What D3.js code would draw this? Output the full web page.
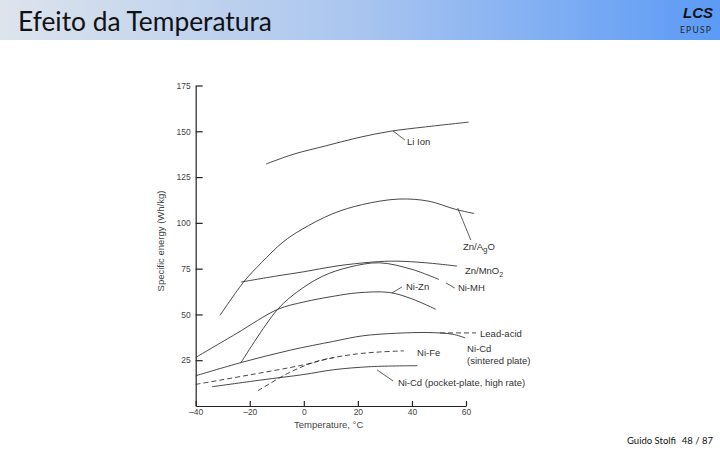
<!DOCTYPE html>
<html><head><meta charset="utf-8">
<script src="https://cdn.jsdelivr.net/npm/d3@7"></script>
<style>html,body{margin:0;padding:0;background:#fff;}svg{display:block;}</style>
</head><body>
<svg id="c" width="720" height="450"></svg>
<script>
// ---- data ----
const xTicks = [-40, -20, 0, 20, 40, 60];
const yTicks = [25, 50, 75, 100, 125, 150, 175];

const liIonT = [-14, -4, 8, 20, 32, 45, 61];
const liIonE = [132.1, 137.4, 142, 146.5, 150, 152.4, 155];

const znAgoT = [-31, -22, -15.7, -7.7, -1, 10.7, 21.7, 35.2, 46.3, 56.1, 63];
const znAgoE = [49.5, 68.2, 78.2, 89.5, 96.2, 105, 110, 113, 111.8, 107.4, 105.1];

const znMnT = [-23.2, -10, 0, 11.9, 25.4, 34, 45.1, 56.7];
const znMnE = [67.7, 71, 73.3, 76.4, 78.6, 79.1, 78.2, 76.4];

const niMhT = [-23.2, -10.2, -2.8, 7, 16.8, 27.9, 40, 50];
const niMhE = [23.8, 51.9, 61.9, 70.9, 75.8, 78.2, 74.6, 69.1];

const niZnT = [-40, -25, -9.6, 0, 11.3, 20, 31.6, 40, 48.8];
const niZnE = [26.5, 39.5, 52.8, 56.8, 60, 61.8, 62, 58.5, 52.8];

const sinteredT = [-40, -23, -5, 11, 21.7, 34, 46.3, 55, 59.7];
const sinteredE = [16.5, 23.8, 30.5, 35.3, 38.3, 39.7, 40.1, 39.2, 37.2];

const niFeT = [-40, -20, 0, 11.3, 20, 28, 37];
const niFeE = [11.8, 17, 22.5, 26.5, 28.5, 29.5, 30.1];

const niFe2T = [-17, -5.3, 5, 11.3];
const niFe2E = [8.3, 18.3, 24.5, 26.5];

const pocketT = [-34, -15.8, 0, 11, 25, 42];
const pocketE = [10.5, 14.2, 17.2, 19.8, 21.5, 22];

const leadLeadT = [50.4, 63.7];
const leadLeadE = [39.9, 39.9];

const series = [
  {t: liIonT, e: liIonE, dash: null},
  {t: znAgoT, e: znAgoE, dash: null},
  {t: znMnT, e: znMnE, dash: null},
  {t: niMhT, e: niMhE, dash: null},
  {t: niZnT, e: niZnE, dash: null},
  {t: sinteredT, e: sinteredE, dash: null},
  {t: niFeT, e: niFeE, dash: "5,3"},
  {t: niFe2T, e: niFe2E, dash: "5,3"},
  {t: pocketT, e: pocketE, dash: null},
  {t: leadLeadT, e: leadLeadE, dash: "5,3"}
];

// annotation labels (data coordinates)
const labelTexts = ["Li Ion", "Zn/AgO", "Zn/MnO2", "Ni-MH", "Ni-Zn", "Lead-acid", "Ni-Cd", "(sintered plate)", "Ni-Fe", "Ni-Cd (pocket-plate, high rate)"];
const labelT = [38.2, 58.9, 59.6, 57.0, 37.8, 65.2, 60.4, 60.4, 41.9, 34.8];
const labelE = [142.5, 85.2, 72.1, 62.8, 63.3, 37.7, 29.5, 22.9, 27.3, 10.9];

// leader lines: [t1, e1, t2, e2]
const leaders = [
  [33.0, 150.2, 37.4, 145.2],
  [56.9, 108.1, 61.8, 90.6],
  [52.6, 67.2, 55.9, 64.4],
  [32.6, 61.7, 36.3, 65.0],
  [27.1, 19.7, 33.0, 13.7]
];

// ---- drawing ----
const svg = d3.select("#c");
const defs = svg.append("defs");
const grad = defs.append("linearGradient").attr("id", "hdr").attr("x1", "0").attr("x2", "1").attr("y1", "0").attr("y2", "0");
grad.append("stop").attr("offset", "0").attr("stop-color", "#dde4ec");
grad.append("stop").attr("offset", "0.5").attr("stop-color", "#a9c5ef");
grad.append("stop").attr("offset", "1").attr("stop-color", "#5b9af6");

svg.append("rect").attr("x", 0).attr("y", 0).attr("width", 720).attr("height", 40).attr("fill", "url(#hdr)");

const title = svg.append("text").attr("x", 18).attr("y", 31)
  .attr("font-family", "Lato, 'Open Sans', sans-serif").attr("font-size", 26).attr("fill", "#111")
  .text("Efeito da Temperatura");
const tw = title.node().getComputedTextLength();
title.attr("font-size", 26 * 254 / tw);

svg.append("text").attr("x", 713).attr("y", 18).attr("text-anchor", "end")
  .attr("font-family", "'Liberation Sans', Arial, sans-serif").attr("font-weight", "bold").attr("font-style", "italic")
  .attr("font-size", 15).attr("fill", "#111").text("LCS");
svg.append("text").attr("x", 712).attr("y", 33).attr("text-anchor", "end")
  .attr("font-family", "Lato, sans-serif").attr("font-size", 8.5).attr("letter-spacing", 1.2).attr("fill", "#222").text("EPUSP");

svg.append("text").attr("x", 627).attr("y", 444)
  .attr("font-family", "Lato, sans-serif").attr("font-size", 9.5).attr("fill", "#111").text("Guido Stolfi");
svg.append("text").attr("x", 713).attr("y", 444).attr("text-anchor", "end")
  .attr("font-family", "Lato, sans-serif").attr("font-size", 9.5).attr("fill", "#111").text("48 / 87");

const x = d3.scaleLinear().domain([-40, 60]).range([195.7, 466]);
const y = d3.scaleLinear().domain([0, 175]).range([406, 85.5]);

const fmt = d => d < 0 ? "\u2013" + Math.abs(d) : String(d);
const axisFont = "'Liberation Sans', Arial, sans-serif";

const gy = svg.append("g").attr("transform", `translate(${x(-40)},0)`)
  .call(d3.axisLeft(y).tickValues(yTicks).tickSizeInner(-7).tickSizeOuter(0).tickPadding(5).tickFormat(fmt));
const gx = svg.append("g").attr("transform", `translate(0,${y(0)})`)
  .call(d3.axisBottom(x).tickValues(xTicks).tickSizeInner(-5).tickSizeOuter(0).tickPadding(3).tickFormat(fmt));
[gy, gx].forEach(g => {
  g.selectAll("path,line").attr("stroke", "#222").attr("stroke-width", 1.2);
  g.selectAll("text").attr("font-family", axisFont).attr("font-size", 8.5).attr("fill", "#444");
});

svg.append("text").attr("x", 294).attr("y", 428)
  .attr("font-family", axisFont).attr("font-size", 9.5).attr("fill", "#444").text("Temperature, \u00B0C");
svg.append("text").attr("transform", "translate(164,241) rotate(-90)").attr("text-anchor", "middle")
  .attr("font-family", axisFont).attr("font-size", 9.5).attr("fill", "#444").text("Specific energy (Wh/kg)");

const line = d3.line().x(d => x(d[0])).y(d => y(d[1])).curve(d3.curveCatmullRom.alpha(0.5));

svg.append("g").selectAll("path").data(series).join("path")
  .attr("d", s => line(s.t.map((t, i) => [t, s.e[i]])))
  .attr("fill", "none").attr("stroke", "#333").attr("stroke-width", 0.9)
  .attr("stroke-dasharray", s => s.dash);

svg.append("g").selectAll("line").data(leaders).join("line")
  .attr("x1", d => x(d[0])).attr("y1", d => y(d[1]))
  .attr("x2", d => x(d[2])).attr("y2", d => y(d[3]))
  .attr("stroke", "#333").attr("stroke-width", 0.8);

const lab = svg.append("g").attr("font-family", axisFont).attr("font-size", 9.5).attr("fill", "#333");
labelTexts.forEach((txt, i) => {
  const t = lab.append("text").attr("x", x(labelT[i])).attr("y", y(labelE[i]));
  if (txt === "Zn/MnO2") {
    t.append("tspan").text("Zn/MnO");
    t.append("tspan").attr("dy", 3).attr("font-size", 7).text("2");
  } else if (txt === "Zn/AgO") {
    t.append("tspan").text("Zn/A");
    t.append("tspan").attr("dy", 2).attr("font-size", 8).text("g");
    t.append("tspan").attr("dy", -2).text("O");
  } else {
    t.text(txt);
  }
});
</script>
</body></html>
